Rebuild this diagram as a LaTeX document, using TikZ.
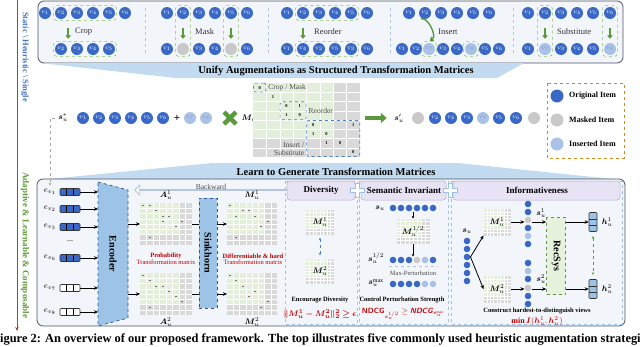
\documentclass[tikz,border=0pt]{standalone}
\usepackage{fontspec}
\setmainfont{Liberation Serif}
\usepackage{amsmath,bm}
\usetikzlibrary{positioning,calc,fit,arrows.meta,shapes.arrows}

\definecolor{itemblue}{HTML}{3A68C6}
\definecolor{itemgray}{HTML}{C9C9C9}
\definecolor{itemlight}{HTML}{A9C2E6}
\definecolor{lighttext}{HTML}{7F9BC8}
\definecolor{panelfill}{HTML}{F2F5FA}
\definecolor{panelline}{HTML}{4D5563}
\definecolor{bandblue}{HTML}{C3DBF0}
\definecolor{arrgreen}{HTML}{5B9A3C}
\definecolor{dashgreen}{HTML}{8DC063}
\definecolor{dashblue}{HTML}{4A82C4}
\definecolor{sepblue}{HTML}{B4C6DE}
\definecolor{matgreen}{HTML}{E3EFDA}
\definecolor{matgray}{HTML}{D9D9D9}
\definecolor{encfill}{HTML}{9DC3E6}
\definecolor{encline}{HTML}{2F5597}
\definecolor{lavender}{HTML}{E8E2F5}
\definecolor{lavline}{HTML}{B9ADD8}
\definecolor{secline}{HTML}{9CC3E5}
\definecolor{darkred}{HTML}{C00000}
\definecolor{legendline}{HTML}{C98A1E}
\definecolor{axisbrown}{HTML}{A4472B}
\definecolor{statictext}{HTML}{4472C4}
\definecolor{adapttext}{HTML}{5E9A36}
\definecolor{recfill}{HTML}{E6F2DC}

% grid matrix: name, x, y, width, height
\newcommand{\gridmat}[5]{%
  \node[matnode, minimum width=#4pt, minimum height=#5pt] (#1) at (#2,#3) {};
  \fill[matgreen] ({#2-#4/2},{#3-#5/2}) rectangle ({#2+#4/4},{#3+#5/4});
  \foreach \mi in {1,...,7}{
    \draw[matline] ({#2-#4/2+\mi*#4/8},{#3-#5/2}) -- ++(0,#5);
    \draw[matline] ({#2-#4/2},{#3-#5/2+\mi*#5/8}) -- ++(#4,0);
  }
}
% tiny entries: x, y, width, height, col/row list
\newcommand{\matmarks}[5]{%
  \foreach \mc/\mr in {#5}
    \fill[black!55] ({#1-#3/2+(\mc+0.5)*#3/8-1.1},{#2-#4/2+(\mr+0.5)*#4/8-0.4}) rectangle ++(2.2,0.8);
}
\newcommand{\plusmark}[2]{%
  \draw[secline, fill=white, line width=0.6pt] ({#1-2},{#2-7}) -- ++(4,0) -- ++(0,5) -- ++(5,0) -- ++(0,4)
    -- ++(-5,0) -- ++(0,5) -- ++(-4,0) -- ++(0,-5) -- ++(-5,0) -- ++(0,-4) -- ++(5,0) -- cycle;
}

\begin{document}
\begin{tikzpicture}[
    x=1pt, y=-1pt,
    node distance=2pt,
    every node/.style={font=\fontsize{8}{9}\selectfont},
    item/.style={circle, fill=itemblue, text=white, minimum size=12pt, inner sep=0pt,
        font=\fontsize{6.5}{6.5}\selectfont},
    masked/.style={item, fill=itemgray},
    inserted/.style={item, fill=itemlight, text=lighttext},
    dot/.style={circle, fill=itemblue, minimum size=6.6pt, inner sep=0pt},
    dotg/.style={dot, fill=itemgray},
    dotl/.style={dot, fill=itemlight},
    grpbox/.style={draw=dashgreen, dashed, rounded corners=3pt, line width=0.6pt, inner sep=1.2pt},
    greenarr/.style={draw=arrgreen, line width=2pt, -{Triangle[length=3.5pt,width=5.5pt]},
        shorten <=9pt, shorten >=4pt},
    fatarr/.style={draw=arrgreen, line width=4pt, -{Triangle[length=6pt,width=10pt]},
        shorten <=5pt, shorten >=4pt},
    sepline/.style={draw=sepblue, dashed, line width=0.6pt},
    lbl/.style={font=\fontsize{8.5}{9}\selectfont, text=black!80, inner sep=1pt},
    mlbl/.style={font=\fontsize{7.5}{8}\selectfont, text=black!70, inner sep=1pt},
    num/.style={font=\fontsize{4.5}{5}\selectfont\bfseries, inner sep=0pt},
    blk/.style={draw=dashblue, dashed, rounded corners=2pt, line width=0.7pt, inner sep=0pt},
    matnode/.style={fill=matgray, inner sep=0pt, outer sep=0pt},
    matline/.style={draw=white, line width=0.35pt},
    arr/.style={-{Stealth[length=4pt,width=3.5pt]}, line width=0.8pt},
    boldlbl/.style={font=\fontsize{9}{10}\selectfont\bfseries},
    bandtxt/.style={font=\fontsize{10.5}{11}\selectfont\bfseries},
    smalltxt/.style={font=\fontsize{6.5}{7}\selectfont\bfseries, inner sep=1pt},
    redtxt/.style={text=darkred, font=\fontsize{6.5}{7}\selectfont, inner sep=0.5pt},
    redbold/.style={text=darkred, font=\fontsize{6.5}{7}\selectfont\bfseries, inner sep=0.5pt},
    formula/.style={text=darkred, font=\fontsize{8}{9}\selectfont},
    emb/.style={draw=black!80, fill=itemblue, minimum width=20pt, minimum height=7pt,
        inner sep=0pt, line width=0.6pt, rounded corners=1pt,
        path picture={\draw[black, line width=0.8pt]
            ($(path picture bounding box.north west)!0.333!(path picture bounding box.north east)$) --
            ($(path picture bounding box.south west)!0.333!(path picture bounding box.south east)$)
            ($(path picture bounding box.north west)!0.667!(path picture bounding box.north east)$) --
            ($(path picture bounding box.south west)!0.667!(path picture bounding box.south east)$);}},
    embw/.style={emb, fill=white},
    hvec/.style={draw=black!80, fill=encfill, minimum width=8pt, minimum height=19pt,
        inner sep=0pt, line width=0.6pt, rounded corners=1pt,
        path picture={\draw[black!80, line width=0.6pt]
            ($(path picture bounding box.north west)!0.333!(path picture bounding box.south west)$) --
            ($(path picture bounding box.north east)!0.333!(path picture bounding box.south east)$)
            ($(path picture bounding box.north west)!0.667!(path picture bounding box.south west)$) --
            ($(path picture bounding box.north east)!0.667!(path picture bounding box.south east)$);}},
    sinkbox/.style={draw=encline, dashed, fill=encfill, line width=0.7pt, inner sep=0pt},
    recbox/.style={draw=arrgreen, dashed, fill=recfill, line width=0.7pt, inner sep=0pt},
    header/.style={draw=lavline, fill=lavender, rounded corners=3pt, line width=0.5pt},
    section/.style={draw=secline, dashed, line width=0.6pt},
    backarr/.style={single arrow, shape border rotate=180, draw=sepblue, fill=white,
        line width=0.8pt, minimum width=10pt, single arrow head extend=3pt, inner sep=0pt}
]
\useasboundingbox (0,0) rectangle (640,346);

% ---------- heuristic strategies ----------
\draw[panelline, fill=panelfill, rounded corners=6pt, line width=0.8pt] (38,1) rectangle (623,63);
\foreach \x in {145,268,390,513} \draw[sepline] (\x,8) -- (\x,56);

% Crop
\foreach \i/\x in {1/45,2/61,3/77,4/93,5/109,6/125} \node[item] (cropa\i) at (\x,13) {$v_{\i}$};
\foreach \i/\x in {2/61,3/77,4/93,5/109} \node[item] (cropb\i) at (\x,49) {$v_{\i}$};
\node[grpbox, fit=(cropa2)(cropa5)] (cropg1) {};
\node[grpbox, fit=(cropb2)(cropb5)] (cropg2) {};
\draw[greenarr] ($(cropa2.south)!0.45!(cropa3.south)$) -- ($(cropb2.north)!0.45!(cropb3.north)$);
\node[lbl, anchor=west] (croplbl) at (74,32) {Crop};

% Mask
\foreach \i/\x in {1/167,2/183,3/199,4/215,5/231,6/247} \node[item] (maska\i) at (\x,13) {$v_{\i}$};
\foreach \i/\x/\s/\t in {1/167/item/$v_1$,2/183/masked/{},3/199/item/$v_3$,4/215/item/$v_4$,5/231/masked/{},6/247/item/$v_6$}
    \node[\s] (maskb\i) at (\x,49) {\t};
\node[grpbox, fit=(maska2)(maskb2)] (maskg1) {};
\node[grpbox, fit=(maska5)(maskb5)] (maskg2) {};
\draw[greenarr] (maska2.south) -- (maskb2.north);
\draw[greenarr] (maska5.south) -- (maskb5.north);
\node[lbl, anchor=west] (masklbl) at (194,32) {Mask};

% Reorder
\foreach \i/\x in {1/287,2/303,3/319,4/335,5/351,6/367} \node[item] (reoa\i) at (\x,13) {$v_{\i}$};
\foreach \i/\x/\t in {1/287/1,2/303/4,3/319/2,4/335/5,5/351/3,6/367/6} \node[item] (reob\i) at (\x,49) {$v_{\t}$};
\node[grpbox, fit=(reoa2)(reoa5)] (reog1) {};
\node[grpbox, fit=(reob2)(reob5)] (reog2) {};
\draw[greenarr] (reoa2.south) -- (reob2.north);
\node[lbl, anchor=west] (reolbl) at (313,32) {Reorder};

% Insert
\foreach \i/\x in {1/409,2/425,3/441,4/457,5/473,6/489} \node[item] (insa\i) at (\x,13) {$v_{\i}$};
\foreach \i/\x/\s/\t in {1/402/item/$v_1$,2/416/item/$v_2$,3/429/inserted/$v_7$,4/443/item/$v_3$,5/457/item/$v_4$,6/471/inserted/$v_8$,7/485/item/$v_5$,8/499/item/$v_6$}
    \node[\s] (insb\i) at (\x,49) {\t};
\node[grpbox, fit=(insb3)] (insg1) {};
\node[grpbox, fit=(insb6)] (insg2) {};
\draw[greenarr, line width=1.4pt, shorten <=2pt, shorten >=1pt] ([xshift=-6pt]insa2.south) to[bend left=80] (insg1.north);
\node[lbl, anchor=west] (inslbl) at (437,32) {Insert};

% Substitute
\foreach \i/\x in {1/528,2/545,3/561,4/577,5/593,6/610} \node[item] (suba\i) at (\x,13) {$v_{\i}$};
\foreach \i/\x/\s/\t in {1/528/item/$v_1$,2/545/inserted/$v_7$,3/561/item/$v_3$,4/577/item/$v_4$,5/593/item/$v_5$,6/610/inserted/$v_8$}
    \node[\s] (subb\i) at (\x,49) {\t};
\node[grpbox, fit=(suba2)(subb2)] (subg1) {};
\node[grpbox, fit=(suba6)(subb6)] (subg2) {};
\draw[greenarr] (suba2.south) -- (subb2.north);
\draw[greenarr] (suba6.south) -- (subb6.north);
\node[lbl, anchor=west] (sublbl) at (556,32) {Substitute};

% band 1
\fill[bandblue] (40,63) -- (524,63) -- (497,78) -- (176,78) -- cycle;
\node[bandtxt] (unify) at (336,71) {Unify Augmentations as Structured Transformation Matrices};

% ---------- transformation matrix row ----------
\node (sstar) at (63,118) {$\boldsymbol{s}_u^{*}$};
\foreach \i/\x in {1/83,2/99,3/115,4/131,5/147,6/163} \node[item] (in\i) at (\x,118) {$v_{\i}$};
\node[font=\fontsize{11}{11}\selectfont\bfseries] (plus) at (177,118) {+};
\node[inserted] (in7) at (190,118) {$v_7$};
\node[inserted] (in8) at (206,118) {$v_8$};
\node (times) at (230,118) {};
\draw[arrgreen, line width=4.5pt] ([shift={(-6,-6)}]times.center) -- ([shift={(6,6)}]times.center)
    ([shift={(-6,6)}]times.center) -- ([shift={(6,-6)}]times.center);
\node (mlabel) at (249,118) {$\boldsymbol{M}_u$};

\gridmat{mmat}{306.5}{120}{107}{74}
\foreach \c/\r/\v in {0/0/0,1/1/1,2/2/0,3/2/1,2/3/1,3/3/0,4/4/0,7/4/1,4/5/1,5/5/0,5/6/1,6/6/0,7/7/0}
    \node[num] (n\c\r) at ({253+(\c+0.5)*13.375},{83+(\r+0.5)*9.25}) {\v};
\node[blk, minimum width=12.5pt, minimum height=9pt] (blkcm) at (n00) {};
\node[blk, minimum width=26pt, minimum height=18pt] (blkre) at ($(n22)!0.5!(n33)$) {};
\node[blk, minimum width=53pt, minimum height=36pt] (blkis) at ($(n44)!0.5!(n77)$) {};
\node[mlbl, right=1pt of blkcm] (cmlbl) {Crop / Mask};
\node[mlbl, right=1pt of blkre] (relbl) {Reorder};
\node[mlbl, align=right, anchor=south east] (islbl) at ([xshift=-1pt]blkis.south west) {Insert /\\Substitute};

\node (sout) at (399,118) {$\boldsymbol{s}_u'$};
\draw[fatarr] (mmat.east |- sout.west) -- (sout.west);
\foreach \i/\x/\s/\t in {1/418/masked/{},2/435/item/$v_2$,3/451/item/$v_4$,4/467/item/$v_3$,5/483/inserted/$v_7$,6/499/item/$v_5$,7/516/item/$v_6$,8/534/masked/{}}
    \node[\s] (out\i) at (\x,118) {\t};

% legend
\draw[legendline, dashed, line width=0.8pt] (547,83) rectangle (624,158);
\node[item, minimum size=13pt] (lg1) at (557,96) {};
\node[masked, minimum size=13pt] (lg2) at (557,120) {};
\node[inserted, minimum size=13pt] (lg3) at (557,144) {};
\node[boldlbl, font=\fontsize{8}{9}\selectfont\bfseries, right=2pt of lg1] {Original Item};
\node[boldlbl, font=\fontsize{8}{9}\selectfont\bfseries, right=2pt of lg2] {Masked Item};
\node[boldlbl, font=\fontsize{8}{9}\selectfont\bfseries, right=2pt of lg3] {Inserted Item};

% band 2
\fill[bandblue] (212,163) -- (458,163) -- (622,180) -- (39,180) -- cycle;
\node[bandtxt] (learn) at (336,172) {Learn to Generate Transformation Matrices};

% ---------- learnable part ----------
\draw[panelline, fill=panelfill, rounded corners=6pt, line width=0.8pt] (37,179) rectangle (625,326);
\draw[section] (285,181) rectangle (357,324);
\draw[section] (359,181) rectangle (448,324);
\draw[section] (451,181) rectangle (622,324);
\draw[header] (287,181) rectangle (355,200);
\draw[header] (361,181) rectangle (446,200);
\draw[header] (453,181) rectangle (620,200);
\node[boldlbl] (divhead) at (321,190) {Diversity};
\node[boldlbl] (semhead) at (404,190) {Semantic Invariant};
\node[boldlbl] (infohead) at (537,190) {Informativeness};
\plusmark{357}{190}
\plusmark{450}{190}

% encoder
\coordinate (encL) at (98,254);
\coordinate (encR) at (128,254);
\draw[encline, dashed, fill=encfill, line width=0.7pt] (98,182) -- (128,190) -- (128,318) -- (98,326) -- cycle;
\node[rotate=-90, font=\fontsize{10}{11}\selectfont\bfseries] (encoder) at (113,254) {Encoder};

\foreach \i/\y/\s in {1/192/emb,2/209/emb,3/227/emb,6/258/emb,7/288/embw,8/312/embw}{
    \node (ev\i) at (50,\y) {$e_{v_{\i}}$};
    \node[\s] (emb\i) at (70,\y) {};
    \draw[arr] (emb\i.east) -- (emb\i -| encL);
}
\node (vdots) at (70,241) {...};
\draw[gray!70, dashed, line width=0.8pt, -{Stealth[length=3pt,width=3pt]}] (sstar.west) -| (ev1.north);

\node[backarr, minimum height=152pt] (backward) at (211,190) {};
\node[mlbl, above=-1.5pt of backward] (backlbl) {Backward};

% probability matrices and Sinkhorn
\gridmat{a1}{166}{224}{52}{42}
\matmarks{166}{224}{52}{42}{0/0,1/0,2/1,3/2,4/2,3/3,6/3,5/4,1/6}
\gridmat{a2}{166}{294}{52}{42}
\matmarks{166}{294}{52}{42}{0/0,1/1,2/2,3/2,4/3,5/4,6/5,1/6}
\node[above=0pt of a1] (a1lbl) {$\boldsymbol{A}_u^1$};
\node[below=-1pt of a2] (a2lbl) {$\boldsymbol{A}_u^2$};
\node[redbold] (prob) at (166,256) {Probability};
\node[redtxt, below=0pt of prob] (probsub) {Transformation matrix};

\node[sinkbox, minimum width=18pt, minimum height=110pt] (sink) at (208,253) {};
\node[rotate=-90, font=\fontsize{10}{11}\selectfont\bfseries] (sinklbl) at (sink) {Sinkhorn};
\draw[arr] (a1.west -| encR) -- (a1.west);
\draw[arr] (a2.west -| encR) -- (a2.west);
\draw[line width=0.8pt] (a1.east) -- (a1.east -| sink.west);
\draw[line width=0.8pt] (a2.east) -- (a2.east -| sink.west);

\gridmat{m1}{252}{224}{50}{42}
\matmarks{252}{224}{50}{42}{0/0,2/1,3/1,1/2,4/2,6/3,5/4,1/6}
\gridmat{m2}{252}{294}{50}{42}
\matmarks{252}{294}{50}{42}{0/0,1/1,2/2,4/3,3/4,6/5,5/6}
\node[above=0pt of m1] (m1lbl) {$\boldsymbol{M}_u^1$};
\node[below=-1pt of m2] (m2lbl) {$\boldsymbol{M}_u^2$};
\draw[arr] (m1.west -| sink.east) -- (m1.west);
\draw[arr] (m2.west -| sink.east) -- (m2.west);
\node[redbold] (hard) at (253,256) {Differentiable \& hard};
\node[redtxt, below=0pt of hard] (hardsub) {Transformation matrix};

% Diversity
\gridmat{dm1}{320}{222}{28}{25}
\gridmat{dm2}{320}{271}{28}{25}
\node (dm1lbl) at (dm1) {$\boldsymbol{M}_u^1$};
\node (dm2lbl) at (dm2) {$\boldsymbol{M}_u^2$};
\draw[dashblue, dashed, line width=0.8pt, {Stealth[length=3pt]}-{Stealth[length=3pt]}, shorten <=3pt, shorten >=3pt]
    (dm1.south) -- (dm2.north);
\node[smalltxt] (divtxt) at (320,300) {Encourage Diversity};
\node[formula] (divform) at (320,314) {$\boldsymbol{\|M_u^1-M_u^2\|_2^2\geq\epsilon}$};

% Semantic invariant
\node (sia) at (380,208) {$\boldsymbol{s}_u$};
\foreach \i/\x in {1/393,2/401,3/409,4/417,5/425,6/433} \node[dot] (sia\i) at (\x,208) {};
\gridmat{mhalf}{413}{231}{33}{25}
\node (mhalflbl) at (mhalf) {$\boldsymbol{M}_u^{1/2}$};
\draw[arr, line width=0.6pt, -{Stealth[length=2.5pt,width=2.5pt]}] (mhalf.north |- sia3.south) -- (mhalf.north);
\foreach \i/\x/\s in {1/393/dot,2/401/dot,3/409/dot,4/417/dotg,5/425/dotl,6/433/dot} \node[\s] (sib\i) at (\x,260) {};
\draw[arr, line width=0.6pt, -{Stealth[length=2.5pt,width=2.5pt]}] (mhalf.south) -- (mhalf.south |- sib3.north);
\node (sib) at (376,258) {$\boldsymbol{s}_u^{1/2}$};
\draw[sepblue, dashed, line width=0.5pt] ([xshift=-4pt,yshift=-6pt]sib1.center) -- ([xshift=5pt,yshift=-6pt]sib6.center);
\node[mlbl, font=\fontsize{6.5}{7}\selectfont] (maxpert) at (413,273) {Max-Perturbation};
\foreach \i/\x/\s in {1/393/dot,2/401/dot,3/409/dot,4/417/dot,5/425/dotl,6/433/dotl} \node[\s] (sic\i) at (\x,284) {};
\node (sic) at (376,283) {$\boldsymbol{s}_u^{\max}$};
\node[smalltxt] (semtxt) at (402,300) {Control Perturbation Strength};
\node[formula, font=\fontsize{7.5}{8}\selectfont] (semform) at (403,314)
    {$\textsf{\textbf{NDCG}}_{\boldsymbol{s}_u^{1/2}}\geq\textsf{\textbf{\textit{NDCG}}}_{\boldsymbol{s}_u^{\max}}$};

% Informativeness
\node (isu) at (467,231) {$\boldsymbol{s}_u$};
\foreach \i/\y in {1/241,2/249,3/257,4/265,5/273,6/281} \node[dot] (isu\i) at (467,\y) {};
\gridmat{im1}{497}{222}{27}{27}
\gridmat{im2}{497}{289}{27}{27}
\node (im1lbl) at (im1) {$\boldsymbol{M}_u^1$};
\node (im2lbl) at (im2) {$\boldsymbol{M}_u^2$};
\draw[arr] (isu3.east) -- (im1.south west);
\draw[arr] (isu3.east) -- (im2.west);
\foreach \i/\y/\s in {1/204/dot,2/212/dot,3/220/dotg,4/228/dot,5/236/dotl,6/244/dot} \node[\s] (vca\i) at (528,\y) {};
\foreach \i/\y/\s in {1/263/dot,2/271/dotl,3/279/dot,4/288/dotg,5/296/dot,6/304/dot} \node[\s] (vcb\i) at (528,\y) {};
\node (sview1) at (541,213) {$\boldsymbol{s}_u^1$};
\node (sview2) at (541,279) {$\boldsymbol{s}_u^2$};
\node[recbox, minimum width=19pt, minimum height=77pt] (rec) at (556,256) {};
\node[rotate=-90, font=\fontsize{10}{11}\selectfont\bfseries] (reclbl) at (rec) {RecSys};
\node[hvec] (h1) at (593,222) {};
\node[hvec] (h2) at (593,289) {};
\node[right=1pt of h1] (h1lbl) {$\boldsymbol{h}_u^1$};
\node[right=1pt of h2] (h2lbl) {$\boldsymbol{h}_u^2$};
\draw[arr] (im1.east) -- (im1.east -| vca3.west);
\draw[arr] (im2.east) -- (im2.east -| vcb4.west);
\draw[arr] (im1.east -| vca3.east) -- (im1.east -| rec.west);
\draw[arr] (im2.east -| vcb4.east) -- (im2.east -| rec.west);
\draw[arr] (h1 -| rec.east) -- (h1.west);
\draw[arr] (h2 -| rec.east) -- (h2.west);
\draw[arrgreen, dashed, line width=1pt, {Stealth[length=3pt]}-{Stealth[length=3pt]}, shorten <=4pt, shorten >=4pt]
    (h1.south) -- (h2.north);
\node[smalltxt] (infotxt) at (537,311) {Construct hardest-to-distinguish views};
\node[formula] (infoform) at (537,321) {$\mathbf{min}\,\boldsymbol{I}(\boldsymbol{h}_u^1,\boldsymbol{h}_u^2)$};

% ---------- side axis ----------
\draw[axisbrown, line width=0.8pt, -{Stealth[length=4pt,width=3.5pt]}] (17,0) -- (17,331);
\node[rotate=-90, text=statictext, font=\fontsize{8.5}{9}\selectfont\bfseries] (statictxt) at (25,57)
    {Static \textbackslash{} Heuristic \textbackslash{} Single};
\node[rotate=-90, text=adapttext, font=\fontsize{9}{10}\selectfont\bfseries] (adapttxt) at (25,245)
    {Adaptive \& Learnable \& Composable};

% caption
\node[anchor=base west, inner sep=0pt, font=\fontsize{12.4}{13}\selectfont\bfseries] (caption) at (-7.6,342)
    {Figure 2: An overview of our proposed framework. The top illustrates five commonly used heuristic augmentation strategies};

\end{tikzpicture}
\end{document}
